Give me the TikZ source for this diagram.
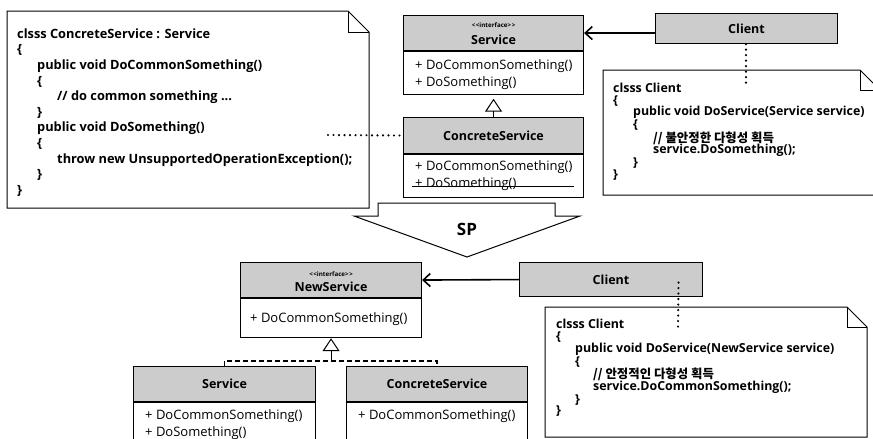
\documentclass[tikz,border=0pt]{standalone}
\usepackage{fontspec}
\setmainfont{Open Sans}
\newfontfamily\kr{Noto Sans CJK KR}
\usetikzlibrary{arrows.meta,calc}
\definecolor{hdgray}{gray}{0.8}

\tikzset{
  hdr/.style={draw, line width=1.1pt, fill=hdgray, inner sep=0pt, anchor=north west},
  bdy/.style={draw, line width=1.1pt, fill=white, inner sep=0pt, anchor=north west},
  cname/.style={font=\fontsize{12.5}{14}\selectfont\bfseries, inner sep=0pt},
  stereo/.style={font=\fontsize{6.2}{7}\selectfont\bfseries, inner sep=0pt},
  attr/.style={font=\fontsize{13}{14}\selectfont, inner sep=0pt, anchor=west},
  notebox/.style={draw, line width=1pt, fill=white, line join=miter},
  bignote/.style={inner sep=0pt, anchor=north west, align=left, font=\fontsize{12.8}{15.6}\selectfont\bfseries},
  smallnote/.style={inner sep=0pt, anchor=north west, align=left, font=\fontsize{12.4}{11.7}\selectfont\bfseries},
  dotline/.style={line width=2.4pt, dash pattern=on 0pt off 5.5pt, line cap=round},
  assoc/.style={line width=1.6pt, -{Straight Barb[length=7pt,width=13pt]}},
  gen/.style={line width=1pt, -{Triangle[open,length=13pt,width=17pt]}},
  realize/.style={line width=1.6pt, dash pattern=on 5pt off 3pt},
}
\newcommand{\stereotype}{<\kern0.6pt<interface>\kern0.6pt>}

\begin{document}
\begin{tikzpicture}[x=1pt,y=-1pt]
\useasboundingbox (0,0) rectangle (873,439);
\clip (0,0) rectangle (873,439);
\fill[white] (0,0) rectangle (873,439);

% ---------- upper diagram ----------
% note: ConcreteService code
\draw[notebox] (7,11) -- (348,11) -- (369,32) -- (369,208) -- (7,208) -- cycle;
\draw[line width=1pt] (348,11) -- (348,32) -- (369,32);
\node[bignote] (codeA) at (17,28.3) {%
clsss ConcreteService : Service\\
\{\\
\hspace*{20pt}public void DoCommonSomething()\\
\hspace*{20pt}\{\\
\hspace*{40pt}// do common something ...\\
\hspace*{20pt}\}\\
\hspace*{20pt}public void DoSomething()\\
\hspace*{20pt}\{\\
\hspace*{40pt}throw new UnsupportedOperationException();\\
\hspace*{20pt}\}\\
\}};

% note: Client code (unstable)
\draw[notebox] (603,70) -- (860,70) -- (880,90) -- (880,195) -- (603,195) -- cycle;
\draw[line width=1pt] (860,70) -- (860,90) -- (880,90);
\node[smallnote] (codeB) at (613,82.7) {%
clsss Client\\
\{\\
\hspace*{20pt}public void DoService(Service service)\\
\hspace*{20pt}\{\\
\hspace*{40pt}{\kr\bfseries // 불안정한 다형성 획득}\\
\hspace*{40pt}service.DoSomething();\\
\hspace*{20pt}\}\\
\}};

% interface Service
\node[hdr, minimum width=180pt, minimum height=35pt] (svcH) at (403,15) {};
\node[bdy, minimum width=180pt, minimum height=43pt] (svcB) at (svcH.south west) {};
\node[stereo] (svcS) at ($(svcH.center)+(0,-7.5)$) {\stereotype};
\node[cname] (svcN) at ($(svcH.center)+(0,6.5)$) {Service};
\node[attr] (svcA1) at ($(svcB.north west)+(12,15)$) {+ DoCommonSomething()};
\node[attr] (svcA2) at ($(svcB.north west)+(12,32)$) {+ DoSomething()};

% class ConcreteService
\node[hdr, minimum width=180pt, minimum height=36pt] (csH) at (403,117) {};
\node[cname] (csN) at (csH.center) {ConcreteService};
\node[bdy, minimum width=180pt, minimum height=43pt] (csB) at (csH.south west) {};
\node[attr] (csA1) at ($(csB.north west)+(12,13)$) {+ DoCommonSomething()};
\node[attr] (csA2) at ($(csB.north west)+(12,30)$) {+ DoSomething()};
\draw[line width=1pt] ($(csB.north west)+(9,32)$) -- ($(csB.north east)+(-10,32)$);

% Client
\node[hdr, minimum width=182pt, minimum height=30pt] (clT) at (655,13) {};
\node[cname] (clTN) at (clT.center) {Client};

% connectors
\draw[gen, shorten >=3.5pt] (csH.north) -- (svcB.south);
\draw[assoc] (clT.west |- svcH.east) -- (svcH.east);
\coordinate (codeAend) at (328,135);
\draw[dotline] (codeAend) -- (csH.west);
\coordinate (codeBend) at (746,88);
\draw[dotline] (clT.south -| codeBend) -- (codeBend);

% ---------- transformation arrow ----------
\draw[line width=1pt, fill=white, line join=miter]
  (378,203) -- (555,203) -- (555,216) -- (580,216) -- (467,257)
  -- (354,216) -- (378,216) -- cycle;
\node[font=\fontsize{17}{20}\selectfont\bfseries, inner sep=0pt] (sp) at (467,229) {SP};

% ---------- lower diagram ----------
% note: Client code (stable)
\draw[notebox] (545,307) -- (847,307) -- (867,327) -- (867,437) -- (545,437) -- cycle;
\draw[line width=1pt] (847,307) -- (847,327) -- (867,327);
\node[smallnote] (codeC) at (556,319.2) {%
clsss Client\\
\{\\
\hspace*{19pt}public void DoService(NewService service)\\
\hspace*{19pt}\{\\
\hspace*{37pt}{\kr\bfseries // 안정적인 다형성 획득}\\
\hspace*{37pt}service.DoCommonSomething();\\
\hspace*{19pt}\}\\
\}};

% interface NewService
\node[hdr, minimum width=181pt, minimum height=35pt] (nsH) at (240,262) {};
\node[bdy, minimum width=181pt, minimum height=39pt] (nsB) at (nsH.south west) {};
\node[stereo] (nsS) at ($(nsH.center)+(0,-5.5)$) {\stereotype};
\node[cname] (nsN) at ($(nsH.center)+(0,6.5)$) {NewService};
\node[attr] (nsA1) at ($(nsB.north west)+(10,21.5)$) {+ DoCommonSomething()};

% class Service
\node[hdr, minimum width=182pt, minimum height=35pt] (sv2H) at (133,366) {};
\node[cname] (sv2N) at (sv2H.center) {Service};
\node[bdy, minimum width=182pt, minimum height=50pt] (sv2B) at (sv2H.south west) {};
\node[attr] (sv2A1) at ($(sv2B.north west)+(12,14)$) {+ DoCommonSomething()};
\node[attr] (sv2A2) at ($(sv2B.north west)+(12,31)$) {+ DoSomething()};

% class ConcreteService
\node[hdr, minimum width=181pt, minimum height=35pt] (cs2H) at (346,366) {};
\node[cname] (cs2N) at (cs2H.center) {ConcreteService};
\node[bdy, minimum width=181pt, minimum height=50pt] (cs2B) at (cs2H.south west) {};
\node[attr] (cs2A1) at ($(cs2B.north west)+(12,14)$) {+ DoCommonSomething()};

% Client
\node[hdr, minimum width=183pt, minimum height=34pt] (clB) at (519,262) {};
\node[cname] (clBN) at (clB.center) {Client};

% connectors
\coordinate (jn) at ($(nsB.south)+(0,22.5)$);
\draw[realize] (sv2H.north) |- (jn) -| (cs2H.north);
\draw[gen] (jn) -- (nsB.south);
\draw[assoc] (clB.west) -- (nsH.east);
\coordinate (codeCend) at (678,327);
\draw[dotline] ($(clB.center)+(67.5,3)$) -- (codeCend);
\end{tikzpicture}
\end{document}
